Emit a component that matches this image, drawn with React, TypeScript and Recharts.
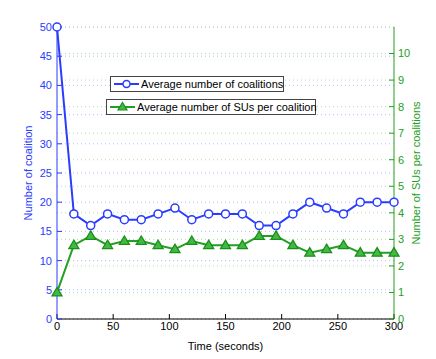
import { LineChart, Line, XAxis, YAxis, CartesianGrid } from 'recharts'

const times = [0, 15, 30, 45, 60, 75, 90, 105, 120, 135, 150, 165, 180, 195, 210, 225, 240, 255, 270, 285, 300]
const coalitions = [50, 18, 16, 18, 17, 17, 18, 19, 17, 18, 18, 18, 16, 16, 18, 20, 19, 18, 20, 20, 20]
const susPerCoalition = [1, 2.78, 3.13, 2.78, 2.94, 2.94, 2.78, 2.63, 2.94, 2.78, 2.78, 2.78, 3.13, 3.13, 2.78, 2.5, 2.63, 2.78, 2.5, 2.5, 2.5]
const timeTicks = [0, 50, 100, 150, 200, 250, 300]
const leftTicks = [0, 5, 10, 15, 20, 25, 30, 35, 40, 45, 50]
const rightTicks = [0, 1, 2, 3, 4, 5, 6, 7, 8, 9, 10]

const data = times.map((t, i) => ({ t, coalitions: coalitions[i], sus: susPerCoalition[i] }))

const BLUE = '#2a3cff'
const GREEN = '#22a022'
const FONT = 'Liberation Sans, Arial, sans-serif'

const Triangle = (props: any) => {
  const { cx, cy, index } = props
  if (cx == null || cy == null) return null
  return (
    <path
      key={`tri-${index}`}
      d={`M${cx},${cy - 5} L${cx + 5},${cy + 3.5} L${cx - 5},${cy + 3.5} Z`}
      fill="#44b844"
      stroke="#1a901a"
      strokeWidth={1.3}
    />
  )
}

function LegendBox({ left, top, width, color, marker, text }: any) {
  return (
    <div
      style={{
        position: 'absolute',
        left,
        top,
        width,
        height: 16,
        border: '1px solid #444',
        background: '#fff',
        boxSizing: 'border-box',
        fontFamily: FONT,
        fontSize: 11,
        lineHeight: '14px',
        whiteSpace: 'nowrap',
      }}
    >
      <svg width={26} height={14} style={{ position: 'absolute', left: 3, top: 0 }}>
        <line x1={0} y1={7} x2={25} y2={7} stroke={color} strokeWidth={2} />
        {marker === 'circle' ? (
          <circle cx={12.5} cy={7} r={3.5} fill="#fff" stroke={color} strokeWidth={1.5} />
        ) : (
          <path d="M12.5,2.5 L17,10 L8,10 Z" fill="#44b844" stroke="#1a901a" strokeWidth={1.2} />
        )}
      </svg>
      <span style={{ position: 'absolute', left: 30, top: 0 }}>{text}</span>
    </div>
  )
}

export default function App() {
  return (
    <div style={{ position: 'absolute', left: 0, top: 0, width: 436, height: 359, background: '#fff' }}>
      <LineChart
        width={436}
        height={359}
        data={data}
        margin={{ top: 27, right: 0, bottom: 0, left: 0 }}
        style={{ fontFamily: FONT }}
      >
        <CartesianGrid yAxisId="left" vertical={false} stroke="#b4bcff" strokeDasharray="1 3" />
        <CartesianGrid yAxisId="right" vertical={false} stroke="#b0deb0" strokeDasharray="1 3" />
        <XAxis
          xAxisId="top"
          orientation="top"
          dataKey="t"
          type="number"
          domain={[0, 300]}
          ticks={timeTicks}
          height={0}
          tickSize={-5}
          tickFormatter={() => ''}
          stroke="#777"
        />
        <XAxis
          dataKey="t"
          type="number"
          domain={[0, 300]}
          ticks={timeTicks}
          height={40}
          tickSize={-5}
          tickMargin={8}
          stroke="#000"
          tick={{ fill: '#000', fontSize: 11 }}
          label={{ value: 'Time (seconds)', position: 'insideBottom', offset: 9, fill: '#000', fontSize: 11 }}
        />
        <YAxis
          yAxisId="left"
          domain={[0, 50]}
          ticks={leftTicks}
          width={57}
          tickSize={-5}
          tickMargin={10}
          stroke={BLUE}
          tick={{ fill: BLUE, fontSize: 11 }}
          label={{
            value: 'Number of coalition',
            angle: -90,
            position: 'insideLeft',
            offset: 28,
            fill: BLUE,
            fontSize: 11,
            style: { textAnchor: 'middle' },
          }}
        />
        <YAxis
          yAxisId="right"
          orientation="right"
          domain={[0, 11]}
          ticks={rightTicks}
          width={42}
          tickSize={-5}
          tickMargin={9}
          stroke={GREEN}
          tick={{ fill: GREEN, fontSize: 11 }}
          label={{
            value: 'Number of SUs per coalitions',
            angle: -90,
            position: 'insideRight',
            offset: 20,
            fill: GREEN,
            fontSize: 11,
            style: { textAnchor: 'middle' },
          }}
        />
        <Line
          yAxisId="left"
          dataKey="coalitions"
          stroke={BLUE}
          strokeWidth={2}
          dot={{ r: 4, fill: '#fff', stroke: BLUE, strokeWidth: 1.5 }}
          isAnimationActive={false}
        />
        <Line
          yAxisId="right"
          dataKey="sus"
          stroke={GREEN}
          strokeWidth={2}
          dot={Triangle}
          isAnimationActive={false}
        />
      </LineChart>
      <LegendBox left={110} top={76} width={174} color={BLUE} marker="circle" text="Average number of coalitions" />
      <LegendBox left={106} top={99} width={210} color={GREEN} marker="triangle" text="Average number of SUs per coalition" />
    </div>
  )
}
